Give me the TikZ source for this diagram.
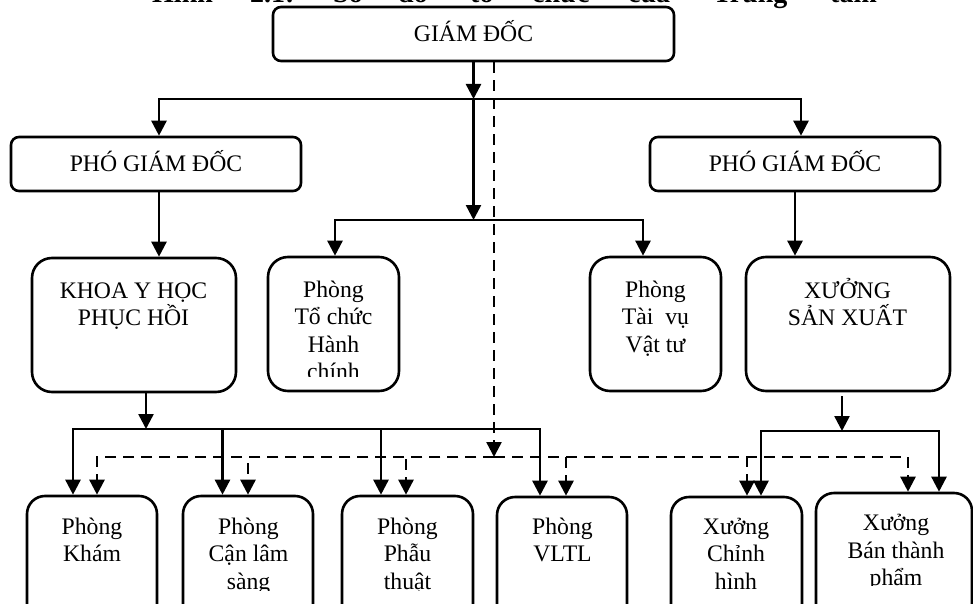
\documentclass[tikz,border=0pt]{standalone}
\usepackage{fontspec}
\setmainfont{Liberation Serif}
\usetikzlibrary{arrows.meta}
\newcommand\mybox[6]{%
  \node[box, rounded corners=#6pt, minimum width={#4-#2}, minimum height={#5-#3}]
    (#1) at ({(#2+#4)/2},{(#3+#5)/2}) {};}
\newcommand\mytext[4]{%
  \foreach \myline [count=\myi] in {#4}
    \node[lbl] (#1-\myi) at (#2,{#3+27.5*(\myi-1)}) {\myline};}
\begin{document}
\begin{tikzpicture}[x=1pt,y=-1pt,
  box/.style={draw, line width=2.6pt, inner sep=0pt},
  lbl/.style={font=\fontsize{23.7}{27.5}\selectfont, inner sep=0pt, anchor=base},
  conn/.style={line width=2.5pt, -{Triangle[width=15pt,length=15pt]}},
  dconn/.style={conn, dash pattern=on 11pt off 7pt},
  ttl/.style={font=\fontsize{28}{30}\selectfont\bfseries, inner sep=0pt, anchor=base west}]
\useasboundingbox (0,0) rectangle (973,604);

% title (cut off at the top of the page)
\node[ttl] (t1) at (152,3) {Hình};
\node[ttl] (t2) at (250,3) {2.1:};
\node[ttl] (t3) at (333,3) {Sơ};
\node[ttl] (t4) at (398,3) {đồ};
\node[ttl] (t5) at (470,3) {tổ};
\node[ttl] (t6) at (532,3) {chức};
\node[ttl] (t7) at (628,3) {của};
\node[ttl] (t8) at (713,3) {Trung};
\node[ttl] (t9) at (830,3) {tâm};

% boxes
\mybox{gd}{273}{7}{674}{61}{8}
\mybox{pgdl}{11}{137}{301}{191}{8}
\mybox{pgdr}{650}{137}{940}{191}{8}
\mybox{khoa}{32}{258}{236}{392}{20}
\mybox{tcc}{268}{257}{399}{391}{20}
\mybox{tvvt}{590}{257}{721}{391}{20}
\mybox{xsx}{746}{257}{950}{391}{20}
\mybox{kham}{27}{496}{157}{640}{18}
\mybox{cls}{183}{496}{313}{640}{18}
\mybox{pt}{342}{496}{473}{640}{18}
\mybox{vltl}{497}{497}{627}{640}{18}
\mybox{ch}{671}{497}{802}{640}{18}
\mybox{btp}{816}{493}{972}{640}{18}

% texts
\mytext{gdt}{473.5}{41.5}{GIÁM ĐỐC}
\mytext{pgdlt}{156}{171.5}{PHÓ GIÁM ĐỐC}
\mytext{pgdrt}{795}{171.5}{PHÓ GIÁM ĐỐC}
\mytext{khoat}{133.5}{298}{KHOA Y HỌC,PHỤC HỒI}
\begin{scope}
  \clip (268,257) rectangle (399,376);
  \mytext{tcct}{333.5}{297}{Phòng,Tổ chức,Hành,chính}
\end{scope}
\mytext{tvvtt}{655.5}{297}{Phòng,Tài~ vụ,Vật tư}
\mytext{xsxt}{847.5}{298}{XƯỞNG,SẢN XUẤT}
\mytext{khamt}{92}{534}{Phòng,Khám}
\begin{scope}
  \clip (0,480) rectangle (810,590);
  \mytext{clst}{248.5}{534}{Phòng,Cận lâm,sàng}
  \mytext{ptt}{407.5}{534}{Phòng,Phẫu,thuật}
  \mytext{cht}{736}{534}{Xưởng,Chỉnh,hình}
\end{scope}
\mytext{vltlt}{562.5}{534}{Phòng,VLTL}
\begin{scope}
  \clip (810,480) rectangle (973,585);
  \mytext{btpt}{896}{530.5}{Xưởng,Bán thành,phẩm}
\end{scope}

% solid connectors
\coordinate (j1) at (473.5,99);
\coordinate (j2) at (473.5,220);
\draw[conn] (gd.south) -- (j1);
\draw[conn] (j1) -- (j2);
\draw[conn] (j1) -| ([xshift=3pt]pgdl.north);
\draw[conn] (j1) -| ([xshift=6pt]pgdr.north);
\draw[conn] (j2) -| ([xshift=1.5pt]tcc.north);
\draw[conn] (j2) -| ([xshift=-12.5pt]tvvt.north);
\draw[conn] ([xshift=3pt]pgdl.south) -- ([xshift=3pt]pgdl.south |- khoa.north);
\draw[conn] (pgdr.south) -- (pgdr.south |- xsx.north);

\coordinate (j3) at (146,429);
\draw[conn] ([xshift=12pt]khoa.south) -- (j3);
\draw[conn] (j3) -| ([xshift=-19pt]kham.north);
\draw[conn] (j3) -| ([xshift=-25.5pt]cls.north);
\draw[conn] (j3) -| ([xshift=-26.5pt]pt.north);
\draw[conn] (j3) -| ([xshift=-22pt]vltl.north);

\coordinate (j4) at (842,431);
\draw[conn] ([xshift=-6pt,yshift=-4pt]xsx.south) -- (j4);
\draw[conn] (j4) -| ([xshift=24.5pt]ch.north);
\draw[conn] (j4) -| ([xshift=45pt]btp.north);

% dashed connectors
\coordinate (j5) at (494,457);
\draw[dconn] ([xshift=20.5pt]gd.south) -- (j5);
\draw[dconn] (j5) -| ([xshift=5pt]kham.north);
\draw[dconn] (j5) -| (cls.north);
\draw[dconn] (j5) -| ([xshift=-1.5pt]pt.north);
\draw[dconn] (j5) -| ([xshift=4pt]vltl.north);
\draw[dconn] (j5) -| ([xshift=10.5pt]ch.north);
\draw[dconn] (j5) -| ([xshift=14pt]btp.north);
\end{tikzpicture}
\end{document}
